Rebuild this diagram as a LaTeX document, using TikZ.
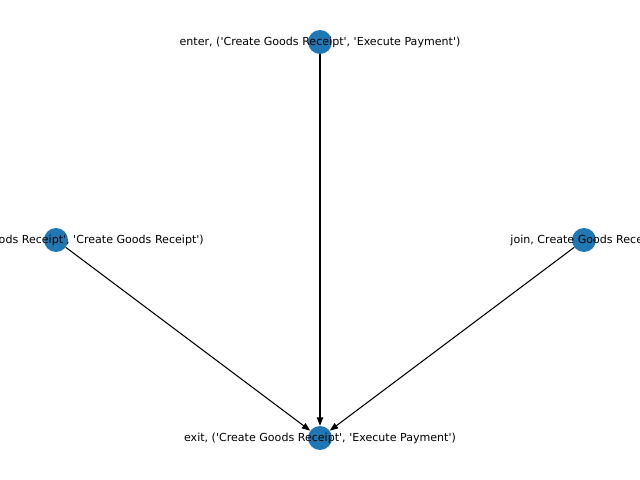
\documentclass[tikz,border=0pt]{standalone}
\usepackage{fontspec}
\setmainfont{DejaVu Sans}[Ligatures=TeXOff]
\usetikzlibrary{arrows.meta}
\definecolor{nodeblue}{HTML}{1F77B4}
\begin{document}
\begin{tikzpicture}[x=0.254mm,y=-0.254mm,
        state/.style={circle,fill=nodeblue,minimum size=17.3pt,inner sep=0pt},
        lbl/.style={font=\fontsize{8}{9.6}\selectfont,inner sep=0pt},
        flow/.style={-{Triangle[length=6pt,width=4.5pt]},line width=0.75pt}]
        \useasboundingbox (0,0) rectangle (640,480);
        \clip (0,0) rectangle (640,480);

        \node[state] (enter) at (320,42) {};
        \node[state] (split) at (56,240) {};
        \node[state] (join) at (584,240) {};
        \node[state] (exit) at (320,438) {};

        \draw[flow] (enter) -- (exit);
        \draw[flow] (split) -- (exit);
        \draw[flow] (join) -- (exit);

        \node[lbl] (enterlabel) at (enter) {enter, ('Create Goods Receipt', 'Execute Payment')};
        \node[lbl,anchor=east] (splitlabel) at (204,240) {ods Receipt', 'Create Goods Receipt')};
        \node[lbl] (joinlabel) at (join) {join, Create Goods Receipt};
        \node[lbl] (exitlabel) at (exit) {exit, ('Create Goods Receipt', 'Execute Payment')};
    \end{tikzpicture}
\end{document}
